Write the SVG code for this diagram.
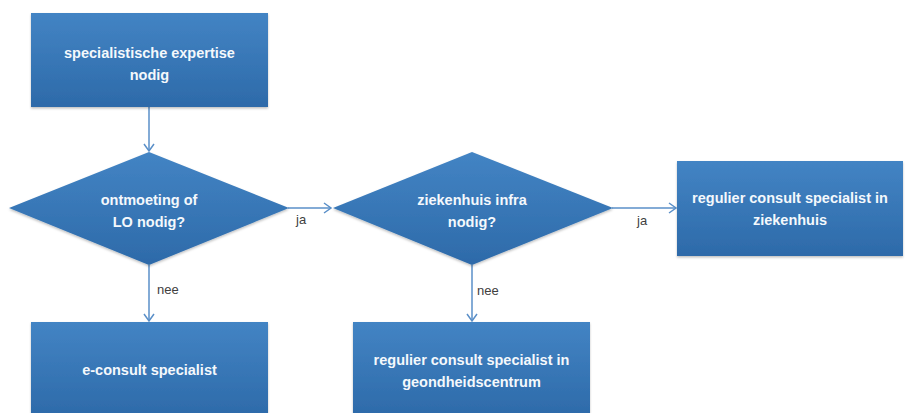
<svg xmlns="http://www.w3.org/2000/svg" width="905" height="413" viewBox="0 0 905 413">
<defs>
<linearGradient id="g" x1="0" y1="0" x2="0" y2="1">
<stop offset="0" stop-color="#4384c4"/>
<stop offset="1" stop-color="#2d6aa9"/>
</linearGradient>
<marker id="arr" markerWidth="10" markerHeight="12" refX="8" refY="6" orient="auto" markerUnits="userSpaceOnUse">
<path d="M1,1 L8,6 L1,11" fill="none" stroke="#5a8fc8" stroke-width="1.5"/>
</marker>
<filter id="sh" x="-5%" y="-5%" width="110%" height="115%">
<feDropShadow dx="0" dy="1.5" stdDeviation="1.2" flood-color="#000" flood-opacity="0.25"/>
</filter>
</defs>
<style>
.n{fill:url(#g);filter:url(#sh)}
.t{font-family:"Liberation Sans",Arial,sans-serif;font-weight:bold;font-size:14.5px;fill:#f4f8fc;text-anchor:middle}
.l{font-family:"Liberation Sans",Arial,sans-serif;font-size:13px;fill:#404040}
.c{fill:none;stroke:#5a8fc8;stroke-width:1.5;marker-end:url(#arr)}
</style>
<rect width="905" height="413" fill="#ffffff"/>
<g id="connectors">
<line class="c" x1="149" y1="107" x2="149" y2="151"/>
<line class="c" x1="288" y1="208" x2="331" y2="208"/>
<line class="c" x1="612" y1="208" x2="676" y2="208"/>
<line class="c" x1="149" y1="265" x2="149" y2="321"/>
<line class="c" x1="472" y1="265" x2="472" y2="321"/>
<text class="l" x="296" y="224">ja</text>
<text class="l" x="637" y="225">ja</text>
<text class="l" x="157" y="294">nee</text>
<text class="l" x="477" y="295">nee</text>
</g>
<g id="n1">
<rect class="n" x="31" y="13" width="237" height="94"/>
<text class="t" x="149.5" y="58">specialistische expertise</text>
<text class="t" x="149.5" y="80">nodig</text>
</g>
<g id="d1">
<polygon class="n" points="149,152 289,208 149,265 9,208"/>
<text class="t" x="149" y="205">ontmoeting of</text>
<text class="t" x="149" y="227">LO nodig?</text>
</g>
<g id="d2">
<polygon class="n" points="472,152 613,208 472,265 333,208"/>
<text class="t" x="472" y="205">ziekenhuis infra</text>
<text class="t" x="472" y="227">nodig?</text>
</g>
<g id="n2">
<rect class="n" x="677" y="161" width="226" height="95"/>
<text class="t" x="790" y="203">regulier consult specialist in</text>
<text class="t" x="790" y="225">ziekenhuis</text>
</g>
<g id="n3">
<rect class="n" x="31" y="322" width="237" height="95"/>
<text class="t" x="149.5" y="375">e-consult specialist</text>
</g>
<g id="n4">
<rect class="n" x="353" y="322" width="237" height="95"/>
<text class="t" x="471.5" y="365">regulier consult specialist in</text>
<text class="t" x="471.5" y="387">geondheidscentrum</text>
</g>
</svg>
